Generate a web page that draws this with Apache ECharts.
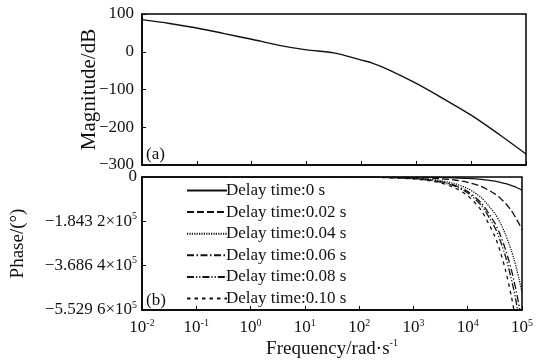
<!DOCTYPE html>
<html>
<head>
<meta charset="utf-8">
<script src="https://cdn.jsdelivr.net/npm/echarts@6/dist/echarts.min.js"></script>
<style>
html,body{margin:0;padding:0;background:#fff;}
#chart{width:536px;height:361px;}
</style>
</head>
<body>
<div id="chart"></div>
<script>
// ---- Data ----
// (a) Magnitude curve
const freqMag = [0.01, 0.0316, 0.1, 0.316, 1, 3.16, 10, 31.6, 100, 158, 316, 1000, 3162, 10000, 31623, 100000];
const magnitudeDb = [85, 75, 63, 48, 33, 17, 5, -3, -22, -30, -48, -84, -125, -168, -218, -271];

// (b) Phase curves (degrees)
const freqPhase = [0.01, 100, 316, 1000, 1778, 3162, 5623, 10000, 17783, 31623, 39811, 50119, 63096, 70795, 79433, 89125, 100000];
const phaseDelay000 = [0, -100, -200, -600, -1000, -1700, -3100, -5500, -9800, -17400, -21900, -27600, -34700, -39000, -43700, -49000, -55000];
const phaseDelay002 = [0, -200, -700, -2200, -3900, -7000, -12400, -22000, -39000, -70000, -88000, -110000, -139000, -156000, -175000, -196000, -220000];
const phaseDelay004 = [0, -500, -1500, -4800, -8500, -15200, -27000, -48000, -85500, -152000, -191000, -241000, -303000, -340000, -381000, -428000, -480000];
const phaseDelay006 = [0, -600, -1900, -6100, -10800, -19200, -34000, -60600, -108000, -192000, -241000, -304000, -382000, -429000, -481000, -540000, -606000];
const phaseDelay008 = [0, -700, -2100, -6700, -11800, -21000, -37400, -66500, -118000, -210000, -265000, -333000, -420000, -471000, -528000, -593000, -665000];
const phaseDelay010 = [0, -800, -2500, -7800, -13900, -24700, -44000, -78000, -139000, -247000, -310000, -391000, -492000, -552000, -619000, -695000, -780000];

const seriesNames = ['Delay time:0 s', 'Delay time:0.02 s', 'Delay time:0.04 s', 'Delay time:0.06 s', 'Delay time:0.08 s', 'Delay time:0.10 s'];

// Tick labels
const xTickExponents = ['-2', '-1', '0', '1', '2', '3', '4', '5'];
const magTicks = ['−300', '−200', '−100', '0', '100'];
const phaseTickMantissas = ['0', '−1.843 2', '−3.686 4', '−5.529 6'];
const phaseTickStep = 184320;

// ---- Chart ----
const FONT = "'Liberation Serif', 'DejaVu Serif', serif";
const phaseSets = [phaseDelay000, phaseDelay002, phaseDelay004, phaseDelay006, phaseDelay008, phaseDelay010];
const dashTypes = ['solid', [7, 3], [1.2, 1.2], [7, 2.5, 1.5, 2.5], [7, 2, 1.2, 2, 1.2, 2], [3.5, 4]];

const chart = echarts.init(document.getElementById('chart'), null, {renderer: 'canvas'});

function zip(xs, ys) { return xs.map((x, i) => [x, ys[i]]); }

const xAxisCommon = {
  type: 'log', logBase: 10, min: 0.01, max: 100000,
  axisLine: {show: true, onZero: false, lineStyle: {color: '#000', width: 1.5}},
  axisTick: {show: true, inside: true, length: 4, lineStyle: {color: '#000', width: 1}},
  minorTick: {show: false},
  splitLine: {show: false}
};

const option = {
  backgroundColor: '#fff',
  animation: false,
  textStyle: {fontFamily: FONT, color: '#111'},
  grid: [
    {left: 142, right: 10, top: 14, height: 151, show: true, borderColor: '#000', borderWidth: 1.5, backgroundColor: 'transparent'},
    {left: 142, right: 10, top: 177, height: 133, show: true, borderColor: '#000', borderWidth: 1.5, backgroundColor: 'transparent'}
  ],
  xAxis: [
    Object.assign({}, xAxisCommon, {gridIndex: 0, axisLabel: {show: false}}),
    Object.assign({}, xAxisCommon, {
      gridIndex: 1,
      name: '{n|Frequency/rad·s}{s|-1}',
      nameLocation: 'middle', nameGap: 28,
      nameTextStyle: {
        rich: {
          n: {fontSize: 19, fontFamily: FONT, color: '#111', lineHeight: 22},
          s: {fontSize: 10, fontFamily: FONT, color: '#111', verticalAlign: 'top', lineHeight: 10}
        }
      },
      axisLabel: {
        margin: 8,
        formatter: function (v) {
          const e = Math.round(Math.log10(v));
          const idx = e + 2;
          return '{b|10}{s|' + xTickExponents[idx] + '}';
        },
        rich: {
          b: {fontSize: 17, fontFamily: FONT, color: '#111', lineHeight: 20},
          s: {fontSize: 10, fontFamily: FONT, color: '#111', verticalAlign: 'top', lineHeight: 9}
        }
      }
    })
  ],
  yAxis: [
    {
      gridIndex: 0, type: 'value', min: -300, max: 100, interval: 100,
      name: 'Magnitude/dB', nameLocation: 'middle', nameGap: 42, nameMoveOverlap: false,
      nameTextStyle: {fontSize: 21, fontFamily: FONT, color: '#111'},
      axisLine: {show: true, lineStyle: {color: '#000', width: 1.5}},
      axisTick: {show: true, inside: true, length: 4, lineStyle: {color: '#000'}},
      splitLine: {show: false},
      axisLabel: {
        fontSize: 17, fontFamily: FONT, color: '#111', margin: 8,
        formatter: function (v) { return magTicks[Math.round((v + 300) / 100)]; }
      }
    },
    {
      gridIndex: 1, type: 'value', min: -3 * phaseTickStep, max: 0, interval: phaseTickStep,
      name: 'Phase/(°)', nameLocation: 'middle', nameGap: 114,
      nameTextStyle: {fontSize: 19, fontFamily: FONT, color: '#111'},
      axisLine: {show: true, lineStyle: {color: '#000', width: 1.5}},
      axisTick: {show: true, inside: true, length: 4, lineStyle: {color: '#000'}},
      splitLine: {show: false},
      axisLabel: {
        margin: 5,
        formatter: function (v) {
          const i = Math.round(-v / phaseTickStep);
          if (i === 0) return '{m|0}';
          return '{m|' + phaseTickMantissas[i] + '×10}{s|5}';
        },
        rich: {
          m: {fontSize: 17, fontFamily: FONT, color: '#111', lineHeight: 20},
          s: {fontSize: 10, fontFamily: FONT, color: '#111', verticalAlign: 'top', lineHeight: 9}
        }
      }
    }
  ],
  legend: {
    show: true,
    orient: 'vertical',
    left: 181, top: 177,
    itemWidth: 40, itemHeight: 10, itemGap: 4.6,
    itemStyle: {opacity: 0, borderWidth: 0},
    textStyle: {fontSize: 17, fontFamily: FONT, color: '#111', padding: [0, 0, 0, -6]},
    data: seriesNames
  },
  graphic: [
    {type: 'text', left: 146, top: 146, style: {text: '(a)', font: '17px ' + FONT, fill: '#111'}},
    {type: 'text', left: 146, top: 292, style: {text: '(b)', font: '17px ' + FONT, fill: '#111'}}
  ],
  series: [
    {
      type: 'line', xAxisIndex: 0, yAxisIndex: 0, showSymbol: false, symbol: 'none', smooth: 0.3,
      data: zip(freqMag, magnitudeDb),
      lineStyle: {color: '#111', width: 1.4}
    }
  ].concat(phaseSets.map((arr, k) => ({
    type: 'line', name: seriesNames[k], xAxisIndex: 1, yAxisIndex: 1,
    showSymbol: false, symbol: 'none', smooth: 0.25, clip: true,
    data: zip(freqPhase, arr),
    lineStyle: {color: '#111', width: 1.3, type: dashTypes[k]},
    itemStyle: {color: '#111'}
  })))
};

chart.setOption(option);
</script>
</body>
</html>
